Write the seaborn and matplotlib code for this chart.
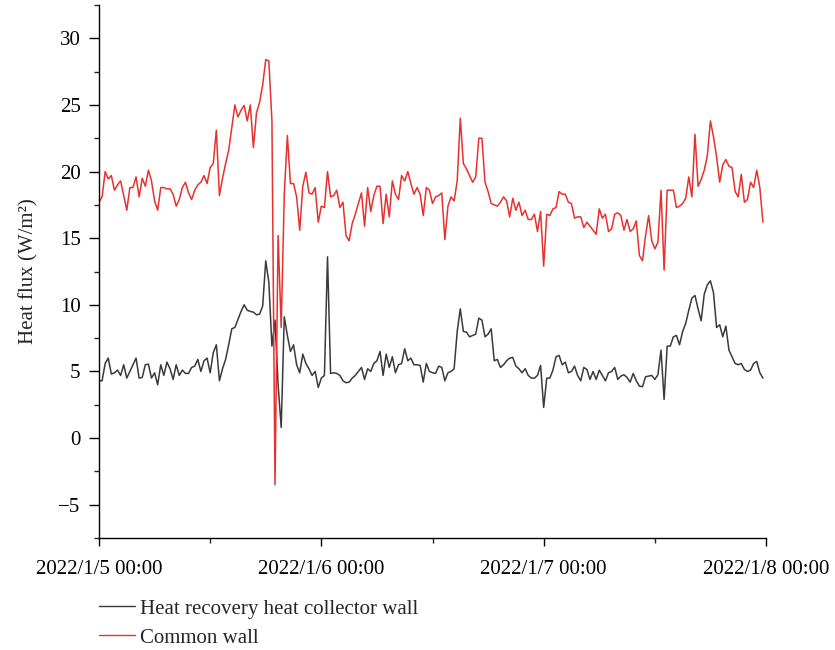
import matplotlib
matplotlib.use("Agg")
import matplotlib.pyplot as plt
import matplotlib.dates as mdates
from matplotlib.ticker import MultipleLocator
import numpy as np
import pandas as pd
import seaborn as sns

# ---------------- data (20-minute samples, 2022/1/5 00:00 onward) ----------------
start_time = "2022-01-05 00:00"
interval = "20min"

collector_wall = [
    4.3, 4.3, 5.6, 6.0, 4.8, 4.9, 5.1, 4.7, 5.5, 4.5,
    5.0, 5.5, 6.0, 4.5, 4.55, 5.5, 5.55, 4.5, 4.9, 4.0,
    5.5, 4.7, 5.7, 5.2, 4.4, 5.5, 4.7, 5.1, 4.85, 4.85,
    5.3, 5.4, 5.9, 5.0, 5.8, 6.0, 4.9, 6.4, 7.0, 4.3,
    5.2, 5.9, 7.0, 8.2, 8.3, 8.9, 9.5, 10.0, 9.6, 9.5,
    9.45, 9.25, 9.3, 9.9, 13.3, 11.7, 6.9, 8.85, 4.0, 0.8,
    9.1, 7.7, 6.5, 7.0, 5.5, 4.9, 6.3, 5.6, 5.2, 4.7,
    5.0, 3.8, 4.5, 4.7, 13.6, 4.85, 4.9, 4.85, 4.7, 4.3,
    4.15, 4.2, 4.5, 4.7, 5.0, 5.3, 4.4, 5.2, 5.0, 5.6,
    5.8, 6.5, 4.7, 6.3, 5.3, 6.1, 4.9, 5.5, 5.6, 6.7,
    5.8, 6.0, 5.5, 5.5, 5.45, 4.2, 5.6, 5.0, 4.9, 4.85,
    5.4, 5.3, 4.3, 4.9, 5.0, 5.2, 8.0, 9.7, 8.0, 7.95,
    7.6, 7.7, 7.8, 9.0, 8.85, 7.6, 7.8, 8.2, 5.8, 5.9,
    5.3, 5.5, 5.8, 6.0, 6.05, 5.4, 5.2, 4.9, 5.2, 4.7,
    4.5, 4.5, 4.7, 5.45, 2.3, 4.5, 4.5, 5.1, 6.1, 6.2,
    5.5, 5.7, 4.9, 5.0, 5.4, 4.7, 4.3, 5.3, 5.15, 4.4,
    5.0, 4.4, 5.1, 4.7, 4.3, 4.9, 5.0, 5.3, 4.4, 4.65,
    4.75, 4.55, 4.2, 4.85, 4.3, 3.9, 3.85, 4.6, 4.65, 4.7,
    4.4, 4.75, 6.6, 2.9, 6.9, 6.9, 7.6, 7.7, 7.0, 8.0,
    8.6, 9.6, 10.5, 10.7, 9.7, 8.8, 10.8, 11.5, 11.8, 10.9,
    8.3, 8.5, 7.6, 8.4, 6.6, 6.1, 5.6, 5.5, 5.6, 5.15,
    5.0, 5.1, 5.6, 5.75, 4.9, 4.5,
]

common_wall = [
    17.7, 18.1, 20.0, 19.45, 19.7, 18.6, 19.0, 19.3, 18.2, 17.1,
    18.8, 18.8, 19.6, 18.1, 19.5, 18.9, 20.1, 19.3, 17.8, 17.1,
    18.8, 18.8, 18.7, 18.7, 18.3, 17.4, 17.9, 18.8, 19.2, 18.4,
    17.9, 18.6, 19.0, 19.2, 19.7, 19.1, 20.3, 20.6, 23.1, 18.2,
    19.5, 20.6, 21.6, 23.3, 25.0, 24.1, 24.6, 24.96, 23.8, 25.0,
    21.8, 24.4, 25.2, 26.5, 28.4, 28.3, 23.8, -3.5, 15.2, 8.3,
    18.3, 22.7, 19.1, 19.1, 18.1, 15.6, 18.9, 19.95, 18.4, 18.3,
    18.8, 16.2, 17.4, 17.3, 20.0, 18.1, 18.2, 18.6, 17.3, 17.7,
    15.2, 14.8, 16.1, 16.8, 17.6, 18.4, 15.9, 18.8, 17.0, 18.2,
    18.9, 18.9, 16.1, 18.3, 16.6, 19.3, 18.3, 17.9, 19.7, 19.3,
    20.0, 19.1, 18.3, 18.8, 18.3, 16.7, 18.8, 18.6, 17.6, 18.1,
    18.2, 18.4, 14.9, 17.4, 18.1, 17.8, 19.3, 24.0, 20.6, 20.2,
    19.7, 19.2, 19.6, 22.5, 22.5, 19.2, 18.5, 17.6, 17.5, 17.4,
    17.7, 18.1, 17.8, 16.6, 18.0, 17.1, 17.7, 16.7, 17.1, 16.4,
    16.4, 16.8, 15.5, 17.0, 12.9, 16.8, 16.7, 17.2, 17.3, 18.5,
    18.3, 18.3, 17.7, 17.6, 16.5, 16.6, 16.6, 15.8, 16.2, 15.9,
    15.6, 15.3, 17.2, 16.5, 16.8, 15.5, 15.7, 16.8, 16.9, 16.7,
    15.6, 16.4, 15.5, 15.7, 16.3, 13.7, 13.3, 15.2, 16.7, 14.8,
    14.2, 14.7, 18.6, 12.6, 18.6, 18.6, 18.6, 17.3, 17.4, 17.6,
    18.0, 19.6, 18.1, 22.8, 18.9, 19.4, 20.1, 21.2, 23.8, 22.6,
    21.1, 19.2, 20.5, 20.9, 20.4, 20.3, 18.5, 18.1, 19.8, 17.7,
    17.9, 19.2, 18.8, 20.1, 18.8, 16.2,
]

series_names = ["Heat recovery heat collector wall", "Common wall"]
series_colors = ["#3a3a3a", "#e8312f"]

x_tick_dates = ["2022-01-05", "2022-01-06", "2022-01-07", "2022-01-08"]
x_tick_labels = ["2022/1/5 00:00", "2022/1/6 00:00", "2022/1/7 00:00", "2022/1/8 00:00"]
y_ticks = [-5, 0, 5, 10, 15, 20, 25, 30]
y_label = "Heat flux (W/m\u00b2)"

# ---------------- build table ----------------
times = pd.date_range(start_time, periods=len(collector_wall), freq=interval)
df = pd.DataFrame({
    "time": np.concatenate([times, times]),
    "flux": collector_wall + common_wall,
    "series": [series_names[0]] * len(collector_wall) + [series_names[1]] * len(common_wall),
})

# ---------------- plot ----------------
sns.set_style("ticks")
plt.rcParams["font.family"] = ["Liberation Serif", "DejaVu Serif"]
plt.rcParams["axes.unicode_minus"] = True

FS = 15

fig = plt.figure(figsize=(8.35, 6.5), dpi=100)
ax = fig.add_axes([99 / 835, 1 - 538 / 650, (766 - 99) / 835, (538 - 5) / 650])

sns.lineplot(data=df, x="time", y="flux", hue="series", hue_order=series_names,
             palette=series_colors, linewidth=1.1, ax=ax, legend=False)

ax.set_xlim(pd.Timestamp(x_tick_dates[0]), pd.Timestamp(x_tick_dates[-1]))
ax.set_ylim(-7.5, 32.5)

ax.set_xticks([pd.Timestamp(d) for d in x_tick_dates])
ax.set_xticklabels(x_tick_labels)
ax.xaxis.set_minor_locator(mdates.HourLocator(byhour=[12]))
ax.set_yticks(y_ticks)
ax.set_yticklabels([f"{v}".replace("-", "\u2212") for v in y_ticks])
ax.yaxis.set_minor_locator(MultipleLocator(2.5))

ax.tick_params(axis="both", which="major", direction="out", length=7.2, width=1.0,
               labelsize=FS, colors="#000000")
ax.tick_params(axis="y", which="major", pad=6)
ax.tick_params(axis="x", which="major", length=6, pad=10)
ax.tick_params(axis="both", which="minor", direction="out", length=3.4, width=1.0)

for s in ["top", "right"]:
    ax.spines[s].set_visible(False)
for s in ["left", "bottom"]:
    ax.spines[s].set_linewidth(1.0)
    ax.spines[s].set_color("#000000")

ax.set_xlabel("")
ax.set_ylabel(y_label, fontsize=FS, labelpad=14)

handles = [plt.Line2D([], [], color=c, lw=1.0) for c in series_colors]
fig.legend(handles, series_names, loc="upper left",
           bbox_to_anchor=(99 / 835, 1 - 599 / 650), frameon=False,
           fontsize=FS, handlelength=1.75, handletextpad=0.2,
           labelspacing=0.45, borderpad=0, borderaxespad=0)

fig.savefig("out.png", dpi=100)
